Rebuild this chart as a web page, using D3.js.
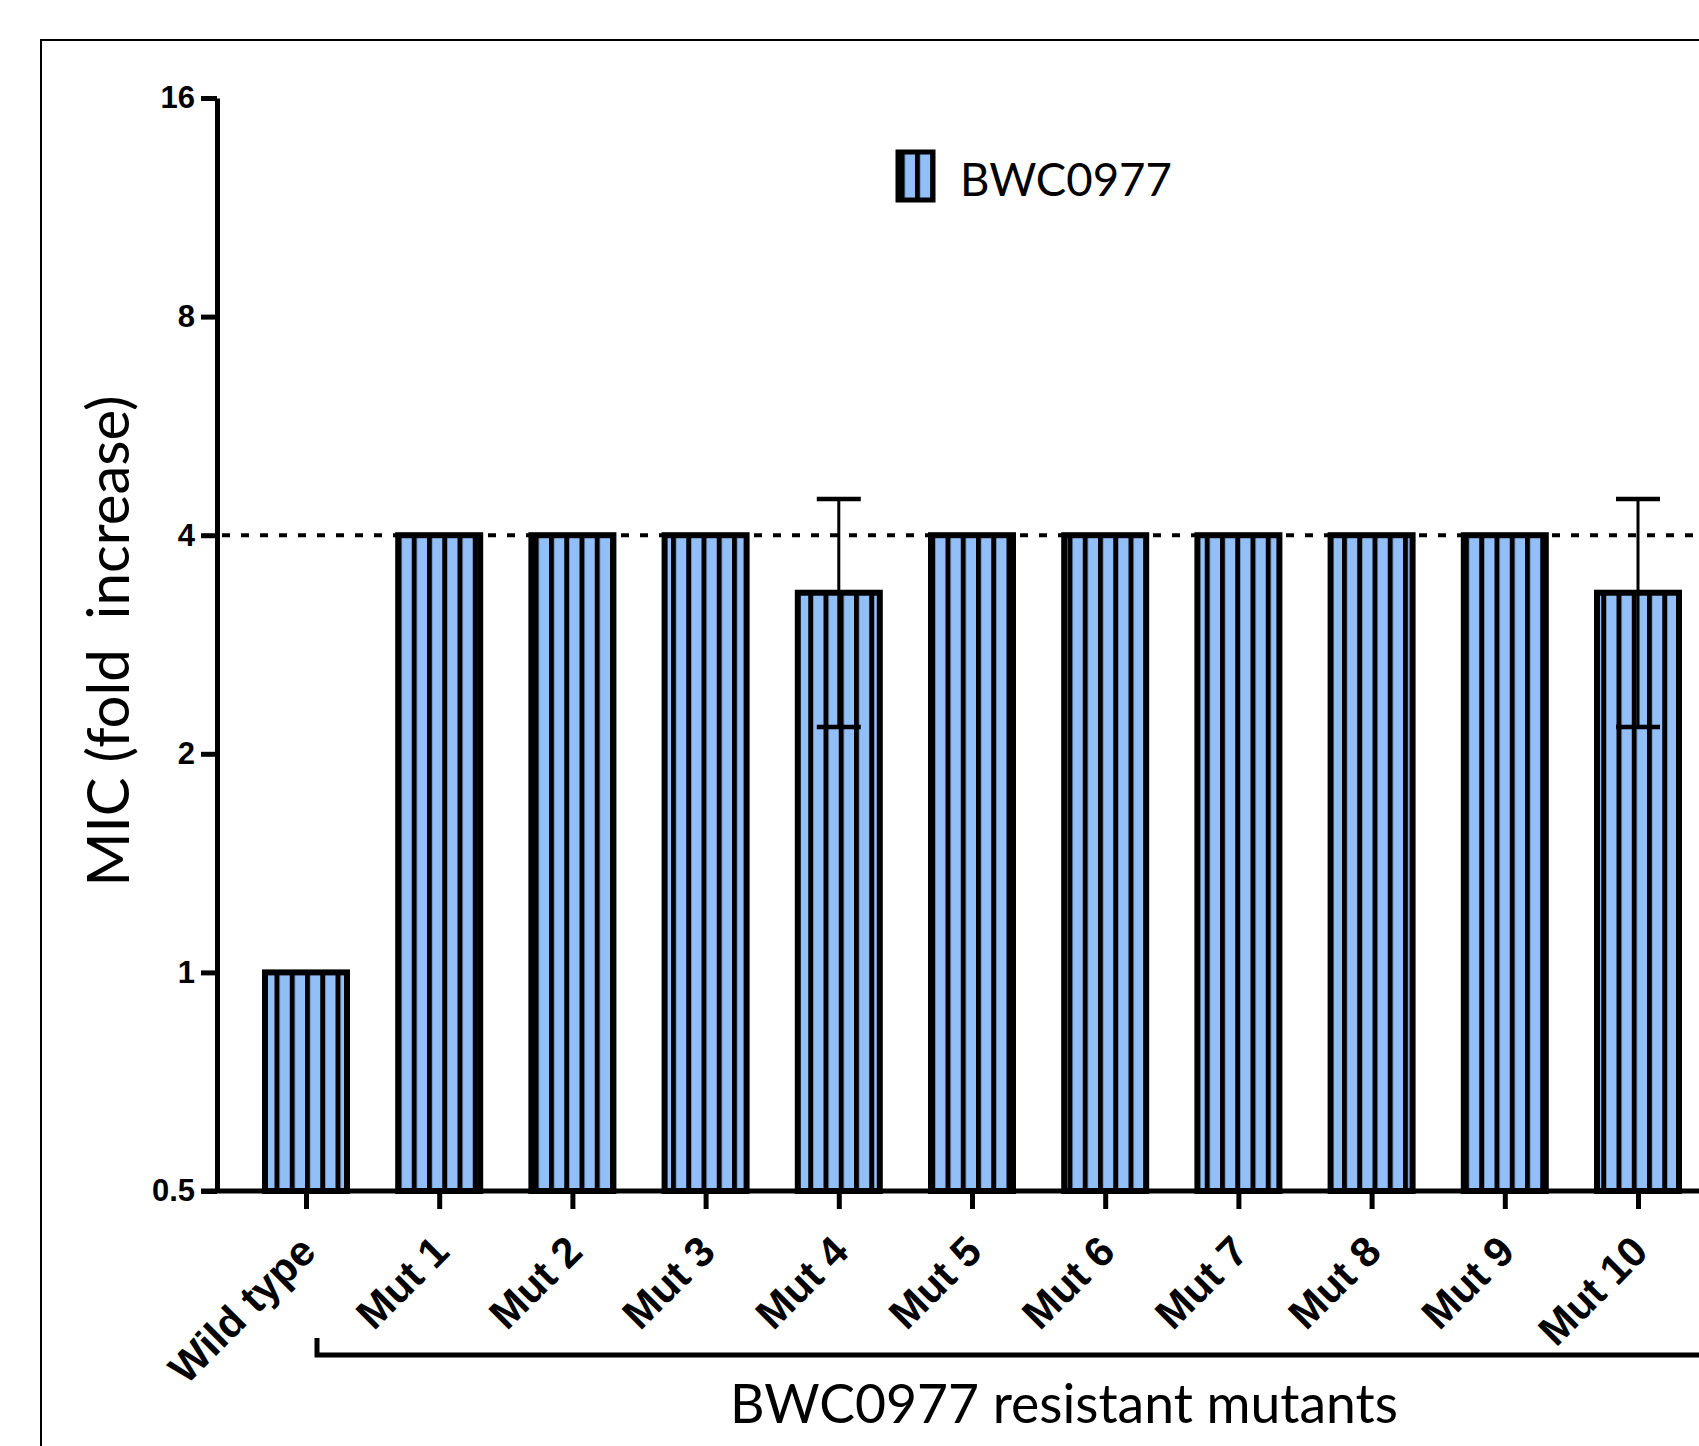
<!DOCTYPE html>
<html>
<head>
<meta charset="utf-8">
<script src="https://cdn.jsdelivr.net/npm/d3@7"></script>
<style>
  html, body { margin: 0; padding: 0; background: #fff; }
  svg { display: block; }
  .tick-label { font-family: "Liberation Sans", Arial, sans-serif; font-weight: bold; }
  .plain { font-family: Lato, "Open Sans", sans-serif; white-space: pre; }
</style>
</head>
<body>
<div id="chart"></div>
<script>
// data
var categories = ["Wild type", "Mut 1", "Mut 2", "Mut 3", "Mut 4", "Mut 5",
                  "Mut 6", "Mut 7", "Mut 8", "Mut 9", "Mut 10"];
var micMeans = [1, 4, 4, 4, 3.333, 4, 4, 4, 4, 4, 3.333];
var micSD = [0, 0, 0, 0, 1.155, 0, 0, 0, 0, 0, 1.155];
var yTicks = [0.5, 1, 2, 4, 8, 16];
var refValue = 4;
var seriesName = "BWC0977";
var groupName = "BWC0977 resistant mutants";
var yTitle = "MIC (fold  increase)";

var width = 1699, height = 1446;
var blue = "#93bff8";

var svg = d3.select("#chart").append("svg")
    .attr("width", width)
    .attr("height", height);

// stripe pattern for the bars
var defs = svg.append("defs");
var pat = defs.append("pattern")
    .attr("id", "stripes")
    .attr("patternUnits", "userSpaceOnUse")
    .attr("width", 15.25)
    .attr("height", 20);
pat.append("rect").attr("width", 15.25).attr("height", 20).attr("fill", blue);
pat.append("rect").attr("width", 5).attr("height", 20).attr("fill", "#000");

// outer frame (runs off the picture to the right and bottom)
svg.append("rect")
    .attr("x", 41).attr("y", 40)
    .attr("width", 1800).attr("height", 1500)
    .attr("fill", "none")
    .attr("stroke", "#000")
    .attr("stroke-width", 2);

var axisX = 217, baseY = 1191, topY = 98;

var y = d3.scaleLog().base(2)
    .domain([0.5, 16])
    .range([baseY, topY]);

var x = d3.scalePoint()
    .domain(categories)
    .range([306, 1638]);

var barW = 82;

// reference line at 4
svg.append("line")
    .attr("x1", axisX + 5).attr("x2", width + 20)
    .attr("y1", y(refValue)).attr("y2", y(refValue))
    .attr("stroke", "#000")
    .attr("stroke-width", 4)
    .attr("stroke-dasharray", "8,11");

// bars
svg.selectAll(".bar")
    .data(categories)
    .enter().append("rect")
    .attr("class", "bar")
    .attr("x", function(d) { return x(d) - barW / 2; })
    .attr("y", function(d, i) { return y(micMeans[i]); })
    .attr("width", barW)
    .attr("height", function(d, i) { return baseY - y(micMeans[i]); })
    .attr("fill", "url(#stripes)")
    .attr("stroke", "#000")
    .attr("stroke-width", 6);

// error bars
var errs = categories.map(function(d, i) {
    return {cat: d, m: micMeans[i], sd: micSD[i]};
}).filter(function(d) { return d.sd > 0; });

var eg = svg.selectAll(".err")
    .data(errs)
    .enter().append("g")
    .attr("class", "err");
eg.append("line")
    .attr("x1", function(d) { return x(d.cat); })
    .attr("x2", function(d) { return x(d.cat); })
    .attr("y1", function(d) { return y(d.m - d.sd); })
    .attr("y2", function(d) { return y(d.m + d.sd); })
    .attr("stroke", "#000").attr("stroke-width", 3);
eg.append("line")
    .attr("x1", function(d) { return x(d.cat) - 22; })
    .attr("x2", function(d) { return x(d.cat) + 22; })
    .attr("y1", function(d) { return y(d.m + d.sd); })
    .attr("y2", function(d) { return y(d.m + d.sd); })
    .attr("stroke", "#000").attr("stroke-width", 4.5);
eg.append("line")
    .attr("x1", function(d) { return x(d.cat) - 22; })
    .attr("x2", function(d) { return x(d.cat) + 22; })
    .attr("y1", function(d) { return y(d.m - d.sd); })
    .attr("y2", function(d) { return y(d.m - d.sd); })
    .attr("stroke", "#000").attr("stroke-width", 4.5);

// Y axis
var yAxis = d3.axisLeft(y)
    .tickValues(yTicks)
    .tickFormat(function(d) { return d; })
    .tickSize(16)
    .tickSizeOuter(0)
    .tickPadding(6);

var yg = svg.append("g")
    .attr("transform", "translate(" + axisX + ",0)")
    .call(yAxis);
yg.select(".domain").attr("stroke-width", 5).attr("stroke", "#000");
yg.selectAll(".tick line").attr("stroke-width", 5).attr("stroke", "#000");
yg.selectAll(".tick text")
    .attr("class", "tick-label")
    .style("font-size", "31px")
    .attr("fill", "#000");

// X axis
var xAxis = d3.axisBottom(x)
    .tickSize(18)
    .tickSizeOuter(0)
    .tickFormat("");

var xg = svg.append("g")
    .attr("transform", "translate(0," + baseY + ")")
    .call(xAxis);
xg.select(".domain").remove();
xg.selectAll(".tick line").attr("stroke-width", 5).attr("stroke", "#000");
xg.append("line")
    .attr("x1", axisX - 16).attr("x2", width + 20)
    .attr("y1", 0).attr("y2", 0)
    .attr("stroke", "#000").attr("stroke-width", 5);

// rotated category labels
svg.selectAll(".xlab")
    .data(categories)
    .enter().append("text")
    .attr("class", "tick-label")
    .style("font-size", "42px")
    .attr("text-anchor", "end")
    .attr("transform", function(d) {
        return "translate(" + (x(d) + 12) + "," + (baseY + 63) + ") rotate(-45)";
    })
    .text(function(d) { return d; });

// bracket under the mutants
var brY = 1355, brX = x(categories[0]) + 11;
svg.append("path")
    .attr("d", "M" + brX + "," + (brY - 17) + "V" + brY + "H" + (width + 20))
    .attr("fill", "none")
    .attr("stroke", "#000")
    .attr("stroke-width", 5);

// fit a plain text to a measured width
function fitText(sel, target) {
    sel.style("font-size", "50px");
    var w = sel.node().getComputedTextLength();
    sel.style("font-size", (50 * target / w) + "px");
}

var grp = svg.append("text")
    .attr("class", "plain")
    .attr("x", 1064).attr("y", 1423)
    .attr("text-anchor", "middle")
    .text(groupName);
fitText(grp, 668);

var yl = svg.append("text")
    .attr("class", "plain")
    .attr("text-anchor", "middle")
    .attr("transform", "translate(129,641) rotate(-90)")
    .text(yTitle);
fitText(yl, 491);

// legend
svg.append("rect")
    .attr("x", 898).attr("y", 152)
    .attr("width", 35).attr("height", 48)
    .attr("fill", "url(#stripes)")
    .attr("stroke", "#000")
    .attr("stroke-width", 5);
var lt = svg.append("text")
    .attr("class", "plain")
    .attr("x", 960).attr("y", 196)
    .text(seriesName);
fitText(lt, 212);
</script>
</body>
</html>
